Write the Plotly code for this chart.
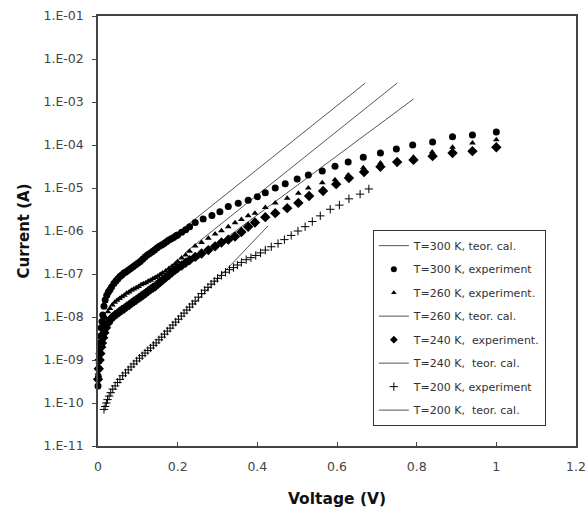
import plotly.graph_objects as go

# ---- data (voltage in V, current in A) ----
v_300 = [0.0, 0.001, 0.002, 0.003, 0.004, 0.005, 0.006, 0.008, 0.01, 0.012, 0.015, 0.018, 0.022, 0.026,
         0.03, 0.034, 0.04, 0.045, 0.05, 0.055, 0.06, 0.065, 0.07, 0.076, 0.082, 0.088, 0.094, 0.1,
         0.106, 0.112, 0.118, 0.124, 0.13, 0.136, 0.142, 0.148, 0.154, 0.16, 0.166, 0.172, 0.178,
         0.184, 0.19, 0.196, 0.2, 0.21, 0.22, 0.23, 0.244, 0.264, 0.286, 0.306, 0.327, 0.352, 0.377,
         0.4, 0.42, 0.445, 0.47, 0.5, 0.528, 0.563, 0.595, 0.628, 0.666, 0.709, 0.749, 0.79, 0.84,
         0.89, 0.94, 1.0]
i_300 = [2.5e-10, 4.0e-10, 6.3e-10, 1.0e-9, 1.58e-9, 2.5e-9, 3.55e-9, 5.6e-9, 7.9e-9, 1.12e-8, 1.78e-8,
         2.5e-8, 3.2e-8, 3.8e-8, 4.3e-8, 5.0e-8, 6.0e-8, 6.9e-8, 7.8e-8, 8.7e-8, 9.5e-8, 1.05e-7,
         1.12e-7, 1.23e-7, 1.35e-7, 1.48e-7, 1.62e-7, 1.78e-7, 1.95e-7, 2.2e-7, 2.5e-7, 2.75e-7, 3.0e-7,
         3.3e-7, 3.6e-7, 4.0e-7, 4.4e-7, 4.7e-7, 5.1e-7, 5.6e-7, 6.2e-7, 6.6e-7, 7.1e-7, 7.8e-7, 8.1e-7,
         9.3e-7, 1.07e-6, 1.26e-6, 1.58e-6, 1.9e-6, 2.3e-6, 2.8e-6, 3.7e-6, 4.4e-6, 5.2e-6, 6.3e-6,
         7.8e-6, 1.0e-5, 1.26e-5, 1.62e-5, 2.0e-5, 2.5e-5, 3.2e-5, 4.0e-5, 5.2e-5, 6.5e-5, 8.1e-5,
         1.0e-4, 1.17e-4, 1.55e-4, 1.7e-4, 2.0e-4]

v_260 = [0.0, 0.002, 0.004, 0.006, 0.008, 0.01, 0.013, 0.016, 0.02, 0.025, 0.03, 0.036, 0.042, 0.048,
         0.054, 0.06, 0.066, 0.072, 0.078, 0.084, 0.09, 0.096, 0.102, 0.108, 0.114, 0.12, 0.126, 0.132,
         0.138, 0.144, 0.15, 0.156, 0.162, 0.17, 0.178, 0.186, 0.194, 0.2, 0.21, 0.22, 0.23, 0.244,
         0.26, 0.277, 0.294, 0.31, 0.327, 0.344, 0.36, 0.377, 0.394, 0.42, 0.445, 0.475, 0.503, 0.528,
         0.563, 0.595, 0.628, 0.666, 0.709, 0.751, 0.792, 0.839, 0.89, 0.94, 1.0]
i_260 = [5.0e-10, 8.9e-10, 1.41e-9, 2.0e-9, 2.8e-9, 3.55e-9, 5.0e-9, 7.1e-9, 9.5e-9, 1.32e-8, 1.58e-8,
         1.9e-8, 2.2e-8, 2.45e-8, 2.7e-8, 2.95e-8, 3.2e-8, 3.55e-8, 3.8e-8, 4.2e-8, 4.5e-8, 4.8e-8,
         5.1e-8, 5.6e-8, 5.9e-8, 6.3e-8, 6.8e-8, 7.2e-8, 7.8e-8, 8.3e-8, 8.9e-8, 9.8e-8, 1.05e-7,
         1.17e-7, 1.35e-7, 1.51e-7, 1.74e-7, 1.95e-7, 2.35e-7, 2.75e-7, 3.4e-7, 4.5e-7, 5.4e-7, 6.8e-7,
         8.5e-7, 1.02e-6, 1.26e-6, 1.55e-6, 1.86e-6, 2.25e-6, 2.6e-6, 3.5e-6, 4.5e-6, 5.8e-6, 7.6e-6,
         1.0e-5, 1.32e-5, 1.55e-5, 2.0e-5, 2.95e-5, 3.8e-5, 4.5e-5, 5.2e-5, 6.9e-5, 8.9e-5, 1.12e-4,
         1.32e-4]

v_240 = [0.0, 0.002, 0.004, 0.006, 0.008, 0.01, 0.013, 0.016, 0.02, 0.025, 0.03, 0.036, 0.042, 0.048,
         0.054, 0.06, 0.066, 0.072, 0.078, 0.084, 0.09, 0.096, 0.102, 0.108, 0.114, 0.12, 0.126, 0.132,
         0.138, 0.144, 0.15, 0.156, 0.162, 0.17, 0.178, 0.186, 0.194, 0.2, 0.21, 0.22, 0.23, 0.244,
         0.26, 0.277, 0.294, 0.31, 0.327, 0.344, 0.36, 0.377, 0.394, 0.42, 0.445, 0.475, 0.503, 0.53,
         0.565, 0.598, 0.63, 0.668, 0.709, 0.751, 0.792, 0.84, 0.89, 0.94, 1.0]
i_240 = [3.55e-10, 6.3e-10, 1.0e-9, 1.41e-9, 2.0e-9, 2.5e-9, 3.3e-9, 4.3e-9, 5.6e-9, 7.2e-9, 8.5e-9,
         9.8e-9, 1.1e-8, 1.2e-8, 1.32e-8, 1.45e-8, 1.58e-8, 1.74e-8, 1.9e-8, 2.1e-8, 2.3e-8, 2.5e-8,
         2.75e-8, 3.0e-8, 3.3e-8, 3.6e-8, 4.0e-8, 4.4e-8, 4.8e-8, 5.2e-8, 5.8e-8, 6.5e-8, 7.2e-8,
         8.3e-8, 9.5e-8, 1.1e-7, 1.26e-7, 1.38e-7, 1.58e-7, 1.82e-7, 2.1e-7, 2.5e-7, 3.0e-7, 3.6e-7,
         4.4e-7, 5.4e-7, 6.3e-7, 7.4e-7, 9.5e-7, 1.26e-6, 1.58e-6, 2.1e-6, 2.6e-6, 3.4e-6, 4.5e-6,
         6.5e-6, 8.5e-6, 1.23e-5, 1.7e-5, 2.35e-5, 3.1e-5, 4.0e-5, 4.5e-5, 5.5e-5, 6.5e-5, 7.2e-5,
         8.9e-5]

v_200 = [0.015, 0.018, 0.021, 0.024, 0.028, 0.032, 0.037, 0.043, 0.049, 0.055, 0.062, 0.069, 0.076,
         0.083, 0.09, 0.097, 0.104, 0.111, 0.118, 0.125, 0.132, 0.139, 0.146, 0.153, 0.16, 0.167,
         0.174, 0.181, 0.188, 0.195, 0.202, 0.209, 0.216, 0.223, 0.23, 0.237, 0.244, 0.252, 0.26,
         0.268, 0.276, 0.284, 0.292, 0.3, 0.31, 0.32, 0.33, 0.34, 0.35, 0.36, 0.372, 0.384, 0.396,
         0.408, 0.42, 0.435, 0.452, 0.468, 0.485, 0.502, 0.52, 0.538, 0.558, 0.583, 0.606, 0.63,
         0.658, 0.68]
i_200 = [7.1e-11, 8.3e-11, 1.0e-10, 1.2e-10, 1.45e-10, 1.74e-10, 2.1e-10, 2.5e-10, 3.0e-10, 3.55e-10,
         4.3e-10, 5.0e-10, 5.9e-10, 6.9e-10, 8.1e-10, 9.5e-10, 1.1e-9, 1.26e-9, 1.45e-9, 1.66e-9,
         1.9e-9, 2.2e-9, 2.5e-9, 2.95e-9, 3.4e-9, 4.0e-9, 4.7e-9, 5.5e-9, 6.5e-9, 7.6e-9, 8.9e-9,
         1.05e-8, 1.23e-8, 1.45e-8, 1.7e-8, 2.0e-8, 2.35e-8, 2.9e-8, 3.5e-8, 4.2e-8, 4.9e-8, 5.8e-8,
         6.8e-8, 7.9e-8, 9.3e-8, 1.1e-7, 1.26e-7, 1.41e-7, 1.62e-7, 1.86e-7, 2.15e-7, 2.4e-7, 2.7e-7,
         3.1e-7, 3.6e-7, 4.3e-7, 5.1e-7, 6.3e-7, 7.9e-7, 1.0e-6, 1.26e-6, 1.66e-6, 2.25e-6, 3.2e-6,
         4.0e-6, 5.6e-6, 7.2e-6, 9.5e-6]

# theoretical calculation lines (end points)
v_th_300 = [0.19, 0.671]
i_th_300 = [7.6e-7, 2.75e-3]
v_th_260 = [0.22, 0.751]
i_th_260 = [3.2e-7, 2.75e-3]
v_th_240 = [0.25, 0.792]
i_th_240 = [2.2e-7, 1.17e-3]
v_th_200 = [0.24, 0.427]
i_th_200 = [2.0e-8, 1.32e-6]

x_ticks = [0, 0.2, 0.4, 0.6, 0.8, 1.0, 1.2]
x_labels = ["0", "0.2", "0.4", "0.6", "0.8", "1", "1.2"]
y_ticks = [1e-11, 1e-10, 1e-9, 1e-8, 1e-7, 1e-6, 1e-5, 1e-4, 1e-3, 1e-2, 1e-1]
y_labels = ["1.E-11", "1.E-10", "1.E-09", "1.E-08", "1.E-07", "1.E-06",
            "1.E-05", "1.E-04", "1.E-03", "1.E-02", "1.E-01"]

FONT = "DejaVu Sans, Verdana, sans-serif"
LINE_COL = "#555555"

fig = go.Figure()

# plotted data (legend entries are drawn by the key traces below)
def add_line(x, y):
    fig.add_trace(go.Scatter(x=x, y=y, mode="lines", showlegend=False,
                             line=dict(color=LINE_COL, width=1)))

def add_pts(x, y, sym, size, lw=0):
    fig.add_trace(go.Scatter(x=x, y=y, mode="markers", showlegend=False, cliponaxis=False,
                             marker=dict(symbol=sym, size=size, color="black",
                                         line=dict(color="black", width=lw))))

add_line(v_th_300, i_th_300)
add_line(v_th_260, i_th_260)
add_line(v_th_240, i_th_240)
add_line(v_th_200, i_th_200)
add_pts(v_200, i_200, "cross-thin", 6, lw=1)
add_pts(v_240, i_240, "diamond", 8)
add_pts(v_260, i_260, "triangle-up", 6)
add_pts(v_300, i_300, "circle", 7)

# legend key entries (small symbols as in the original)
def key_line(name, g):
    fig.add_trace(go.Scatter(x=[None], y=[None], mode="lines", name=name, legendgroup=g,
                             line=dict(color=LINE_COL, width=1)))

def key_pts(name, sym, size, g, lw=0):
    fig.add_trace(go.Scatter(x=[None], y=[None], mode="markers", name=name, legendgroup=g,
                             marker=dict(symbol=sym, size=size, color="black",
                                         line=dict(color="black", width=lw))))

key_line("T=300 K, teor. cal.", "a")
key_pts("T=300 K, experiment", "circle", 6, "b")
key_pts("T=260 K, experiment.", "triangle-up", 5, "c")
key_line("T=260 K, teor. cal.", "d")
key_pts("T=240 K,  experiment.", "diamond", 6, "e")
key_line("T=240 K,  teor. cal.", "f")
key_pts("T=200 K, experiment", "cross-thin", 6, "g", lw=1)
key_line("T=200 K,  teor. cal.", "h")

fig.update_layout(
    width=585, height=510,
    margin=dict(l=98, r=9, t=16, b=64),
    paper_bgcolor="white", plot_bgcolor="white",
    font=dict(family=FONT, color="#222222", size=11),
    showlegend=True,
    legend=dict(x=0.575, y=0.502, xanchor="left", yanchor="top",
                bordercolor="#333333", borderwidth=1, bgcolor="white",
                font=dict(size=11, family=FONT, color="#333333"),
                tracegroupgap=4.5),
)
fig.update_xaxes(range=[0, 1.2], tickvals=x_ticks, ticktext=x_labels,
                 showgrid=False, zeroline=False, showline=True, linecolor="#444444",
                 linewidth=1.5, mirror=True, ticks="inside", ticklen=4, tickcolor="#444444",
                 tickfont=dict(size=12.5, color="#444444"), ticklabelstandoff=8,
                 ticklabeloverflow="allow", automargin=False,
                 title=dict(text="<b>Voltage (V)</b>", font=dict(size=15.5, color="#111111"),
                            standoff=20))
fig.update_yaxes(type="log", range=[-11, -1], tickvals=y_ticks, ticktext=y_labels,
                 showgrid=False, zeroline=False, showline=True, linecolor="#444444",
                 linewidth=1.5, mirror=True, ticks="outside", ticklen=4, tickcolor="#444444",
                 tickfont=dict(size=12.5, color="#444444"), ticklabelstandoff=6,
                 automargin=False,
                 title=dict(text="<b>Current (A)</b>", font=dict(size=15, color="#111111"),
                            standoff=10))

fig.write_html("out.html")
